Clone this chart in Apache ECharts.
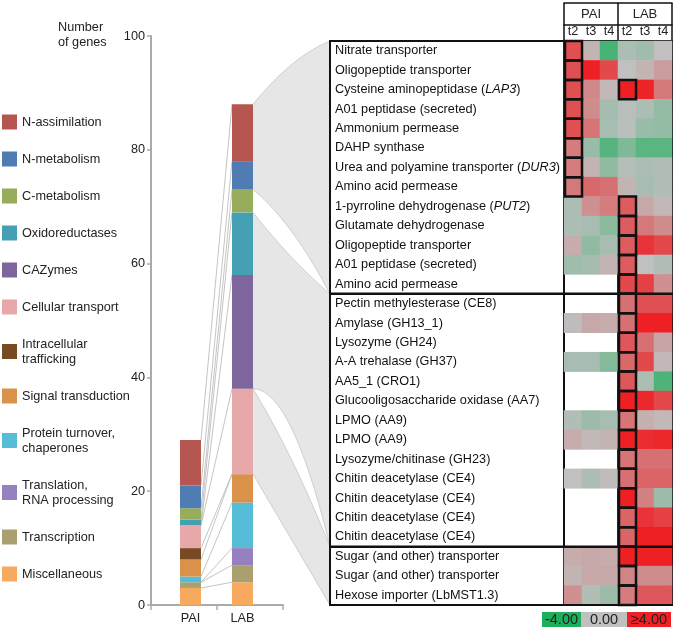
<!DOCTYPE html>
<html><head><meta charset="utf-8">
<script src="https://cdn.jsdelivr.net/npm/echarts@6/dist/echarts.min.js"></script>
<style>html,body{margin:0;padding:0;background:#fff}#c{width:675px;height:628px}</style>
</head><body><div id="c"></div>
<script>
// ---------- data ----------
const categories = ['N-assimilation','N-metabolism','C-metabolism','Oxidoreductases','CAZymes','Cellular transport','Intracellular\ntrafficking','Signal transduction','Protein turnover,\nchaperones','Translation,\nRNA processing','Transcription','Miscellaneous'];
const paiCounts = [8,4,2,1,0,4,2,3,1,0,1,3];
const labCounts = [10,5,4,11,20,15,0,5,8,3,3,4];
const barColors = ['#b65650','#4f7db3','#98ad5b','#46a0b4','#7e659c','#e6a8a8','#774a23','#da924a','#56bdd8','#9780c0','#aa9f6e','#f7a95e'];
const samples = ['PAI','LAB'];
const timepoints = ['t2','t3','t4','t2','t3','t4'];
const rowLabels = ['Nitrate transporter','Oligopeptide transporter','Cysteine aminopeptidase (LAP3)','A01 peptidase (secreted)','Ammonium permease','DAHP synthase','Urea and polyamine transporter (DUR3)','Amino acid permease','1-pyrroline dehydrogenase (PUT2)','Glutamate dehydrogenase','Oligopeptide transporter','A01 peptidase (secreted)','Amino acid permease','Pectin methylesterase (CE8)','Amylase (GH13_1)','Lysozyme (GH24)','A-A trehalase (GH37)','AA5_1 (CRO1)','Glucooligosaccharide oxidase (AA7)','LPMO (AA9)','LPMO (AA9)','Lysozyme/chitinase (GH23)','Chitin deacetylase (CE4)','Chitin deacetylase (CE4)','Chitin deacetylase (CE4)','Chitin deacetylase (CE4)','Sugar (and other) transporter','Sugar (and other) transporter','Hexose importer (LbMST1.3)'];
const italicGenes = ['LAP3','DUR3','PUT2'];
const paiT2 = [2.8,2.8,2.8,2.8,2.8,1.7,1.7,1.8,-0.5,-0.5,0.5,-0.8,null,null,0.1,null,-0.6,null,null,-0.4,0.5,null,0,null,null,null,0.5,0.3,1.2];
const paiT3 = [0.3,4,1.4,1.3,1.9,-1,0.3,2.2,1.2,-0.6,-1.2,-0.7,null,null,0.6,null,-0.6,null,null,-0.9,0.2,null,-0.5,null,null,null,0.6,0.6,-0.4];
const paiT4 = [-3,3,0.2,-0.7,-0.6,-2.6,-1.2,2,1.7,-1.3,-0.6,0.3,null,null,0.5,null,-1.5,null,null,-0.6,0.3,null,0.1,null,null,null,0.5,0.6,-0.9];
const labT2 = [-0.5,0,4,-0.2,-0.2,-1.6,-0.3,0.3,2.5,2.5,2.5,2.5,3,2,2,2.6,2.2,2.6,4,1.9,4,1.9,2,4,2.3,2.3,4,1.5,1.7];
const labT3 = [-0.8,0.3,3.9,-0.5,-1,-2.5,-0.5,-0.6,0.6,1.8,3.5,0,3.2,2.8,4,2,3,-0.5,3.8,0.4,3.7,2,2.3,1.6,3.5,4,4,1.3,2.6];
const labT4 = [0,0.9,1.8,-1.1,-1.1,-2.5,-0.4,-0.4,0.2,1.3,3,-0.4,1.2,2.8,4,0.7,0.2,-2.8,3,0.2,3.8,2,2.3,-0.9,3.2,4,4,1.3,2.6];
const paiT2Sig = [0,1,2,3,4,5,6,7];
const labT2Sig = [2,8,9,10,11,12,13,14,15,16,17,18,19,20,21,22,23,24,25,26,27,28];
const groupRows = [13,13,3];
const groupCategories = [['N-assimilation','N-metabolism'],['Oxidoreductases','CAZymes'],['Cellular transport']];
const scaleLabels = ['-4.00','0.00','\u22654.00'];
const scaleColors = ['#1fae5b','#c0c0c0','#ee2024'];

// ---------- build ----------
const FONT = 'Liberation Sans, Arial, Helvetica, sans-serif';
const chart = echarts.init(document.getElementById('c'), null, {renderer:'canvas'});
const heatCols = [paiT2,paiT3,paiT4,labT2,labT3,labT4];
const heatData = [];
heatCols.forEach((col,c)=>col.forEach((v,r)=>{ if(v!==null) heatData.push([c,r,v]); }));
const sigData = paiT2Sig.map(r=>[0,r]).concat(labT2Sig.map(r=>[3,r]));

const barSeries = [];
for (let i = categories.length-1; i>=0; i--) {
  barSeries.push({type:'bar', name:categories[i], stack:'genes', xAxisIndex:1, yAxisIndex:1,
    barWidth:21, itemStyle:{color:barColors[i]}, data:[paiCounts[i], labCounts[i]], silent:true});
}

const option = {
  animation:false,
  textStyle:{fontFamily:FONT},
  title:{text:'Number\nof genes', left:58, top:20, padding:0, textStyle:{fontSize:12.7, fontWeight:'normal', color:'#222', lineHeight:15, fontFamily:FONT}},
  legend:{orient:'vertical', left:2, top:114.5, padding:0, itemWidth:15, itemHeight:15, itemGap:22, icon:'rect', selectedMode:false,
    data:categories, textStyle:{fontSize:12.7, color:'#222', lineHeight:15}},
  grid:[
    {left:151, top:36, width:132, height:569},
    {left:164.5, top:36, width:104, height:569},
    {left:564, top:41, width:108, height:564}
  ],
  xAxis:[
    {gridIndex:0, type:'category', data:samples, boundaryGap:true,
      axisLine:{show:true, lineStyle:{color:'#aaaaaa', width:2}},
      axisTick:{show:true, length:5, lineStyle:{color:'#aaaaaa', width:1.5}},
      axisLabel:{show:false}, splitLine:{show:false}},
    {gridIndex:1, type:'category', data:samples,
      axisLine:{show:false}, axisTick:{show:false},
      axisLabel:{fontSize:12.7, color:'#222', margin:7}},
    {gridIndex:2, type:'category', data:timepoints, position:'top',
      axisLine:{show:true, lineStyle:{color:'#111', width:2}}, axisTick:{show:false},
      axisLabel:{fontSize:12.7, color:'#222', margin:3, interval:0}},
    {gridIndex:2, type:'category', data:samples, position:'top', offset:16,
      axisLine:{show:true, lineStyle:{color:'#111', width:1.5}},
      axisTick:{show:true, inside:false, length:22, lineStyle:{color:'#111', width:1.5}},
      axisLabel:{fontSize:13, color:'#222', margin:4}},
    {gridIndex:2, type:'category', data:samples, position:'top', offset:0,
      axisLine:{show:false},
      axisTick:{show:true, inside:false, length:16, lineStyle:{color:'#111', width:1.5}},
      axisLabel:{show:false},
      splitLine:{show:true, lineStyle:{color:'#111', width:2}}},
    {gridIndex:2, type:'category', data:samples, position:'top', offset:38,
      axisLine:{show:true, lineStyle:{color:'#111', width:1.5}},
      axisTick:{show:false}, axisLabel:{show:false}}
  ],
  yAxis:[
    {gridIndex:0, type:'value', min:0, max:100, interval:20,
      axisLine:{show:true, lineStyle:{color:'#aaaaaa', width:2}},
      axisTick:{show:true, length:4, lineStyle:{color:'#aaaaaa', width:1.5}},
      axisLabel:{fontSize:12.7, color:'#222', margin:6}, splitLine:{show:false}},
    {gridIndex:1, type:'value', min:0, max:100, show:false},
    {gridIndex:2, type:'category', data:rowLabels, inverse:true,
      axisLine:{show:true, lineStyle:{color:'#111', width:2}}, axisTick:{show:false},
      axisLabel:{align:'left', margin:229, interval:0, fontSize:12.7, color:'#111',
        formatter:function(v){ italicGenes.forEach(g=>{ v = v.replace('('+g+')', '({it|'+g+'})'); }); return v; },
        rich:{it:{fontStyle:'italic', fontSize:12.7, color:'#111', fontFamily:FONT}}}},
    {gridIndex:2, type:'category', data:rowLabels, inverse:true, position:'right',
      axisLine:{show:true, lineStyle:{color:'#111', width:2}}, axisTick:{show:false}, axisLabel:{show:false}}
  ],
  visualMap:{type:'continuous', min:-4, max:4, show:false, seriesIndex:barSeries.length,
    inRange:{color:scaleColors}},
  series: barSeries.concat([
    {type:'heatmap', xAxisIndex:2, yAxisIndex:2, data:heatData, silent:true, emphasis:{disabled:true}},
    {type:'custom', xAxisIndex:2, yAxisIndex:2, data:sigData, silent:true, z:5,
      renderItem:function(params, api){
        const p = api.coord([api.value(0), api.value(1)]);
        const s = api.size([1,1]);
        return {type:'rect', shape:{x:p[0]-s[0]/2+1, y:p[1]-s[1]/2, width:s[0]-1, height:s[1]},
          style:{fill:'none', stroke:'#111', lineWidth:2.5}};
      }}
  ])
};
chart.setOption(option);

// ---------- linking graphics (computed from the chart's scales) ----------
const els = [];
const barHalf = 10.5;
const stackOrder = categories.map((c,i)=>i).reverse();
let cp = 0, cl = 0;
const labBottom = {}, labTop = {};
stackOrder.forEach(i=>{
  const b = cl;
  cp += paiCounts[i]; cl += labCounts[i];
  labBottom[categories[i]] = b; labTop[categories[i]] = cl;
  const a = chart.convertToPixel({gridIndex:1}, [0, cp]);
  const z = chart.convertToPixel({gridIndex:1}, [1, cl]);
  els.push({type:'line', z:1, silent:true, shape:{x1:a[0]+barHalf, y1:a[1], x2:z[0]-barHalf, y2:z[1]},
    style:{stroke:'#b5b5b5', lineWidth:0.8}});
});
const h0 = chart.convertToPixel({gridIndex:2}, [0,0]);
const h1 = chart.convertToPixel({gridIndex:2}, [1,1]);
const rowStep = h1[1]-h0[1], colStep = h1[0]-h0[0];
const rowY = r => h0[1] - rowStep/2 + r*rowStep;
const heatLeft = h0[0]-colStep/2, heatRight = heatLeft + colStep*timepoints.length;
const boxLeft = 330;
const labX = chart.convertToPixel({gridIndex:1}, [1, 0])[0] + barHalf;
const bends = [[0.75,0.3],[0.6,0.0],[0.4,0.5]];
function curve(p0, p1, cy){
  const c = [p0[0]+0.5*(p1[0]-p0[0]), p0[1]+cy*(p1[1]-p0[1])];
  const pts = [];
  for (let k=0;k<=40;k++){ const t=k/40, u=1-t;
    pts.push([u*u*p0[0]+2*u*t*c[0]+t*t*p1[0], u*u*p0[1]+2*u*t*c[1]+t*t*p1[1]]); }
  return pts;
}
let rowStart = 0;
groupCategories.forEach((cats,g)=>{
  const topV = Math.max(...cats.map(c=>labTop[c]));
  const botV = Math.min(...cats.map(c=>labBottom[c]));
  const yT = chart.convertToPixel({gridIndex:1}, [1, topV])[1];
  const yB = chart.convertToPixel({gridIndex:1}, [1, botV])[1];
  const rT = rowY(rowStart), rB = rowY(rowStart+groupRows[g]);
  const top = curve([labX,yT],[boxLeft,rT], bends[g][0]);
  const bot = curve([labX,yB],[boxLeft,rB], bends[g][1]);
  els.push({type:'polygon', z:0, silent:true, shape:{points: top.concat(bot.slice().reverse())},
    style:{fill:'#e6e6e6', stroke:null}});
  els.push({type:'polyline', z:0, silent:true, shape:{points:top}, style:{stroke:'#c4c4c4', lineWidth:0.8, fill:null}});
  els.push({type:'polyline', z:0, silent:true, shape:{points:bot}, style:{stroke:'#c4c4c4', lineWidth:0.8, fill:null}});
  rowStart += groupRows[g];
});
// label box and group separators
const yTopH = rowY(0), yBotH = rowY(rowLabels.length);
els.push({type:'polyline', z:10, silent:true, shape:{points:[[heatLeft,yTopH],[boxLeft,yTopH],[boxLeft,yBotH],[heatRight+1,yBotH]]},
  style:{stroke:'#111', lineWidth:2, fill:null}});
let acc = 0;
groupRows.slice(0,-1).forEach(n=>{ acc += n; const y = rowY(acc);
  els.push({type:'line', z:10, silent:true, shape:{x1:boxLeft, y1:y, x2:heatRight+1, y2:y}, style:{stroke:'#111', lineWidth:2.5}}); });
// colour scale key
const keyX = [542, 581, 627, 671];
scaleLabels.forEach((t,i)=>{
  els.push({type:'rect', silent:true, shape:{x:keyX[i], y:612, width:keyX[i+1]-keyX[i], height:15}, style:{fill:scaleColors[i]}});
  els.push({type:'text', silent:true, x:(keyX[i]+keyX[i+1])/2, y:619.5,
    style:{text:t, fill:'#222', font:'14.5px '+FONT, align:'center', verticalAlign:'middle'}});
});
chart.setOption({graphic:{elements:els}});
</script>
</body></html>
